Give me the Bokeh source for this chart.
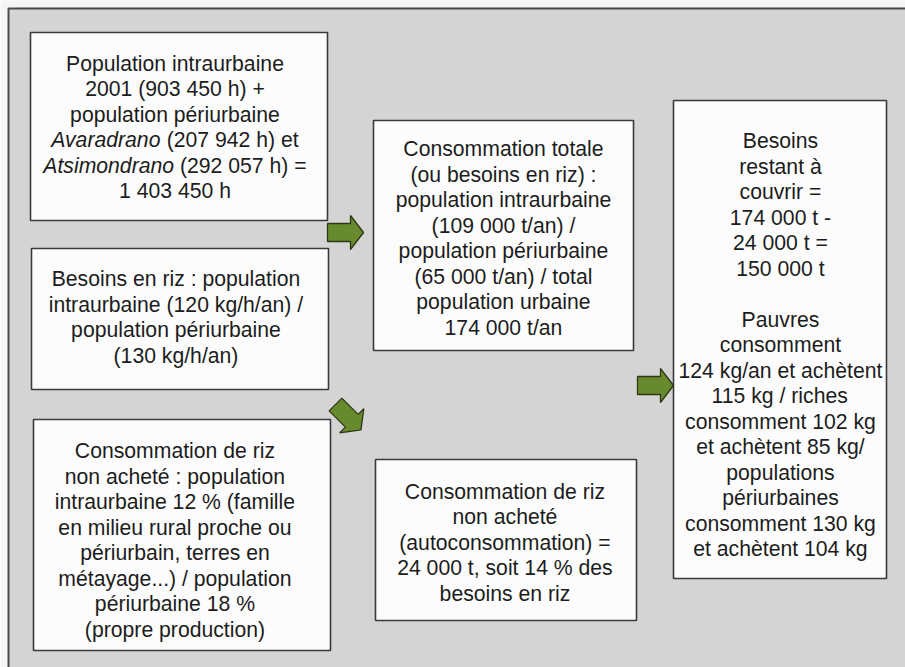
import math
from bokeh.plotting import figure
from bokeh.models import Range1d, ColumnDataSource
from bokeh.core.properties import value
from bokeh.embed import file_html
from bokeh.resources import INLINE

# ---- content (text of each box; *...* marks italic) ----
box_population = ["Population intraurbaine", "2001 (903 450 h) +", "population périurbaine",
                  "*Avaradrano* (207 942 h) et", "*Atsimondrano* (292 057 h) =", "1 403 450 h"]
box_besoins = ["Besoins en riz : population", "intraurbaine (120 kg/h/an) /",
               "population périurbaine", "(130 kg/h/an)"]
box_non_achete = ["Consommation de riz", "non acheté : population", "intraurbaine 12 % (famille",
                  "en milieu rural proche ou", "périurbain, terres en", "métayage...) / population",
                  "périurbaine 18 %", "(propre production)"]
box_total = ["Consommation totale", "(ou besoins en riz) :", "population intraurbaine",
             "(109 000 t/an) /", "population périurbaine", "(65 000 t/an) / total",
             "population urbaine", "174 000 t/an"]
box_auto = ["Consommation de riz", "non acheté", "(autoconsommation) =",
            "24 000 t, soit 14 % des", "besoins en riz"]
box_reste = ["Besoins", "restant à", "couvrir =", "174 000 t -", "24 000 t =", "150 000 t", "",
             "Pauvres", "consomment", "124 kg/an et achètent", "115 kg / riches",
             "consomment 102 kg", "et achètent 85 kg/", "populations", "périurbaines",
             "consomment 130 kg", "et achètent 104 kg"]

# ---- layout (picture pixels): left, top, right, bottom, text centre x, text shift y ----
BOX_LAYOUT = [
    (box_population, 30, 32, 327, 220, 174.5, 0.5),
    (box_besoins, 31, 248, 328, 389, 175.5, -2),
    (box_non_achete, 33, 419, 330, 650, 174.5, 5),
    (box_total, 373, 120, 633, 350, 503, 2.5),
    (box_auto, 375, 459, 636, 620, 504.5, 2),
    (box_reste, 673, 100, 886, 578, 780, 5),
]
# arrows: tail x, tail y, direction (deg, clockwise on screen)
ARROW_LAYOUT = [(327, 232, 0), (335, 404, 45), (637, 385, 0)]

FONT = "Liberation Sans"
FS = 21.2
LH = 25.5
PW, PH = 905, 667

# Arial / Liberation Sans advance widths (per 1000 em)
W = {' ': 278, '!': 278, '(': 333, ')': 333, '+': 584, ',': 278, '-': 333, '.': 278, '/': 278,
     ':': 278, '=': 584, '%': 889, 'A': 667, 'B': 667, 'C': 722, 'P': 667,
     'a': 556, 'b': 556, 'c': 500, 'd': 556, 'e': 556, 'f': 278, 'g': 556, 'h': 556, 'i': 222,
     'j': 222, 'k': 500, 'l': 222, 'm': 833, 'n': 556, 'o': 556, 'p': 556, 'q': 556, 'r': 333,
     's': 500, 't': 278, 'u': 556, 'v': 500, 'w': 722, 'x': 500, 'y': 500, 'z': 500,
     'é': 556, 'è': 556, 'à': 556}
for d in "0123456789":
    W[d] = 556


def tw(s):
    return sum(W.get(c, 556) for c in s) / 1000.0 * FS


def segments(line):
    parts = line.split("*")
    return [(t, i % 2 == 1) for i, t in enumerate(parts) if t]


p = figure(width=PW, height=PH, output_backend="svg", toolbar_location=None,
           x_range=Range1d(0, PW), y_range=Range1d(PH, 0),
           min_border=0, background_fill_color="#f5f5f5", border_fill_color="#f5f5f5")
p.axis.visible = False
p.grid.visible = False
p.outline_line_color = None

# grey panel
p.quad(left=[8], right=[PW + 50], top=[8], bottom=[PH + 50], fill_color="#d4d4d4",
       line_color="#4a4a4a", line_width=2)

# boxes
p.quad(left=[b[1] for b in BOX_LAYOUT], right=[b[3] for b in BOX_LAYOUT],
       top=[b[2] for b in BOX_LAYOUT], bottom=[b[4] for b in BOX_LAYOUT],
       fill_color="#fcfcfc", line_color="#3a3a3a", line_width=1.6)

# texts
norm = dict(x=[], y=[], t=[])
ital = dict(x=[], y=[], t=[])
for lines, l, t, r, b, cx, dy in BOX_LAYOUT:
    n = len(lines)
    cy = (t + b) / 2 + dy
    for k, line in enumerate(lines):
        if not line:
            continue
        y = cy + (k - (n - 1) / 2) * LH
        segs = segments(line)
        total = sum(tw(s) for s, _ in segs)
        x = cx - total / 2
        for s, it in segs:
            core = s.lstrip(" ")
            x += tw(s[:len(s) - len(core)])
            dst = ital if it else norm
            dst["x"].append(x)
            dst["y"].append(y)
            dst["t"].append(core)
            x += tw(core)

p.text(x="x", y="y", text="t", source=ColumnDataSource(norm), text_font=value(FONT),
       text_font_size=f"{FS}px", text_align="left", text_baseline="middle", text_color="#1c1c1c")
p.text(x="x", y="y", text="t", source=ColumnDataSource(ital), text_font=value(FONT),
       text_font_size=f"{FS}px", text_font_style="italic", text_align="left",
       text_baseline="middle", text_color="#1c1c1c")

# arrows
L, HL, BH, HH = 36, 13, 9, 17
shape = [(0, -BH), (L - HL, -BH), (L - HL, -HH), (L, 0), (L - HL, HH), (L - HL, BH), (0, BH)]
axs, ays = [], []
for x0, y0, ang in ARROW_LAYOUT:
    a = math.radians(ang)
    ca, sa = math.cos(a), math.sin(a)
    axs.append([x0 + u * ca - v * sa for u, v in shape])
    ays.append([y0 + u * sa + v * ca for u, v in shape])
p.patches(xs=axs, ys=ays, fill_color="#678b2c", line_color="#2e3816", line_width=1.3)

open("out.html", "w").write(file_html(p, INLINE))
